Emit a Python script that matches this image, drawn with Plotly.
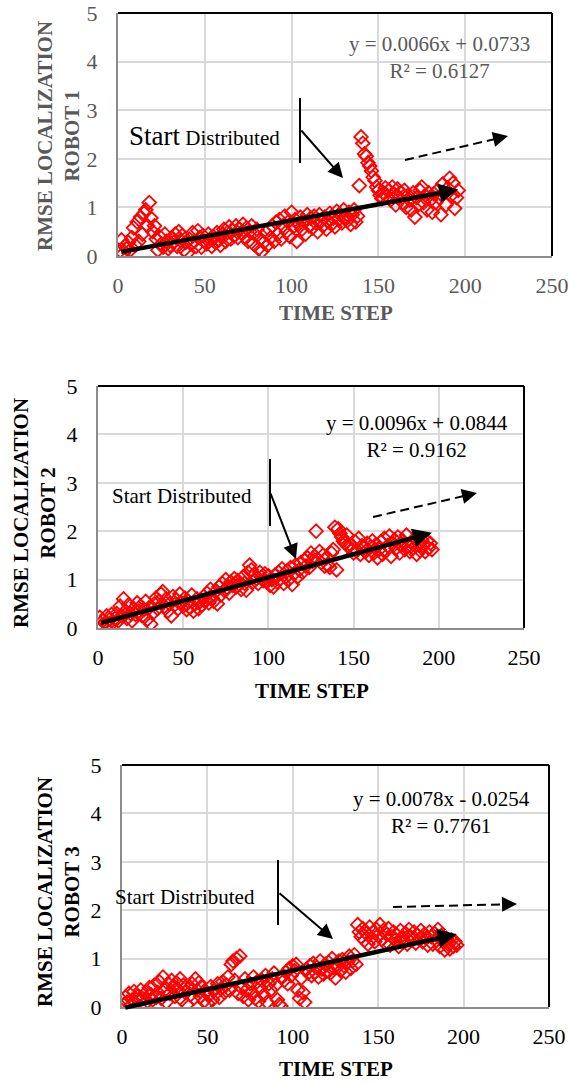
import plotly.graph_objects as go

W, H = 569, 1082
FONT = "Liberation Serif"

# ---------------- data ----------------
time_step = list(range(1, 197))

robot1_rmse = [
    0.10, 0.33, 0.05, 0.20, 0.15, 0.28, 0.12, 0.38, 0.58, 0.22,
    0.70, 0.30, 0.80, 0.45, 0.88, 0.95, 0.62, 1.10, 0.78, 0.50,
    0.62, 0.35, 0.12, 0.40, 0.25, 0.18, 0.45, 0.30, 0.15, 0.22,
    0.38, 0.28, 0.45, 0.20, 0.50, 0.32, 0.42, 0.12, 0.28, 0.06,
    0.35, 0.25, 0.48, 0.30, 0.20, 0.52, 0.38, 0.18, 0.42, 0.30,
    0.25, 0.45, 0.35, 0.20, 0.40, 0.28, 0.48, 0.32, 0.22, 0.45,
    0.55, 0.30, 0.48, 0.60, 0.35, 0.52, 0.42, 0.62, 0.38, 0.55,
    0.48, 0.65, 0.40, 0.58, 0.30, 0.50, 0.62, 0.25, 0.45, 0.55,
    0.15, 0.35, 0.10, 0.28, 0.48, 0.22, 0.55, 0.38, 0.62, 0.30,
    0.70, 0.45, 0.75, 0.35, 0.62, 0.82, 0.50, 0.70, 0.40, 0.90,
    0.60, 0.75, 0.30, 0.65, 0.80, 0.55, 0.72, 0.45, 0.85, 0.62,
    0.78, 0.58, 0.82, 0.68, 0.50, 0.85, 0.72, 0.62, 0.80, 0.55,
    0.70, 0.88, 0.65, 0.78, 0.60, 0.92, 0.75, 0.85, 0.68, 0.95,
    0.80, 0.72, 0.90, 0.65, 0.85, 0.95, 0.70, 0.82, 1.45, 2.45,
    2.32, 2.10, 2.05, 1.92, 1.85, 1.75, 1.62, 1.55, 1.42, 1.35,
    1.25, 1.18, 1.30, 1.40, 1.22, 1.35, 1.15, 1.42, 1.28, 1.05,
    1.38, 1.20, 1.30, 1.10, 1.35, 1.00, 1.25, 1.15, 0.95, 1.30,
    0.80, 1.20, 1.05, 1.35, 1.42, 1.10, 1.25, 0.95, 1.30, 1.15,
    0.90, 1.28, 1.10, 1.35, 1.20, 0.85, 1.48, 1.30, 1.05, 1.40,
    1.60, 1.25, 1.50, 0.98, 1.20, 1.35,
]

robot2_rmse = [
    0.22, 0.05, 0.15, 0.10, 0.25, 0.08, 0.18, 0.28, 0.12, 0.20,
    0.30, 0.15, 0.45, 0.25, 0.60, 0.35, 0.20, 0.48, 0.30, 0.15,
    0.40, 0.28, 0.52, 0.35, 0.45, 0.25, 0.38, 0.55, 0.18, 0.42,
    0.08, 0.30, 0.50, 0.62, 0.40, 0.55, 0.70, 0.75, 0.45, 0.60,
    0.35, 0.50, 0.25, 0.65, 0.48, 0.58, 0.40, 0.70, 0.52, 0.45,
    0.62, 0.38, 0.55, 0.42, 0.68, 0.35, 0.50, 0.60, 0.40, 0.55,
    0.48, 0.65, 0.58, 0.72, 0.52, 0.80, 0.62, 0.55, 0.75, 0.50,
    0.85, 0.68, 0.92, 0.78, 1.00, 0.82, 0.72, 0.95, 0.88, 1.02,
    0.85, 0.98, 0.90, 0.80, 1.05, 0.92, 0.78, 1.15, 1.30, 1.20,
    0.95, 1.10, 1.02, 0.92, 1.15, 1.05, 0.98, 1.12, 0.95, 1.08,
    0.88, 1.00, 0.85, 1.10, 0.95, 1.15, 1.02, 1.22, 0.92, 1.05,
    1.18, 1.00, 1.25, 0.90, 1.12, 1.30, 1.05, 1.20, 1.35, 1.15,
    1.40, 1.28, 1.45, 1.25, 1.55, 1.38, 1.48, 2.00, 1.42, 1.58,
    1.35, 1.50, 1.28, 1.45, 1.30, 1.25, 1.55, 1.62, 2.08, 1.20,
    2.05, 1.95, 1.88, 1.80, 1.75, 1.92, 1.68, 1.72, 1.62, 1.55,
    1.78, 1.60, 1.85, 1.52, 1.70, 1.65, 1.58, 1.75, 1.50, 1.68,
    1.80, 1.55, 1.72, 1.45, 1.62, 1.78, 1.52, 1.85, 1.60, 1.70,
    1.90, 1.48, 1.75, 1.82, 1.65, 1.88, 1.55, 1.72, 1.80, 1.62,
    1.92, 1.70, 1.58, 1.78, 1.65, 1.85, 1.52, 1.75, 1.60, 1.82,
    1.70, 1.58, 1.80, 1.65, 1.75, 1.62,
]

robot3_rmse = [
    0.05, 0.20, 0.10, 0.28, 0.02, 0.15, 0.32, 0.08, 0.22, 0.12,
    0.35, 0.18, 0.05, 0.30, 0.12, 0.40, 0.25, 0.15, 0.45, 0.20,
    0.30, 0.52, 0.18, 0.62, 0.35, 0.10, 0.48, 0.28, 0.55, 0.40,
    0.22, 0.50, 0.35, 0.58, 0.15, 0.45, 0.30, 0.05, 0.38, 0.25,
    0.48, 0.18, 0.58, 0.35, 0.50, 0.22, 0.40, 0.12, 0.30, 0.08,
    0.25, 0.42, 0.15, 0.35, 0.28, 0.48, 0.20, 0.38, 0.52, 0.30,
    0.45, 0.62, 0.35, 0.88, 0.95, 0.55, 1.00, 0.28, 1.05, 0.40,
    0.22, 0.58, 0.35, 0.15, 0.48, 0.30, 0.62, 0.18, 0.52, 0.12,
    0.40, 0.55, 0.25, 0.65, 0.10, 0.48, 0.35, 0.58, 0.70, 0.45,
    0.15, 0.05, 0.02, 0.62, 0.55, 0.72, 0.48, 0.80, 0.65, 0.85,
    0.75, 0.88, 0.35, 0.18, 0.60, 0.30, 0.10, 0.78, 0.70, 0.85,
    0.65, 0.90, 0.72, 0.82, 0.62, 0.95, 0.78, 0.68, 0.88, 0.75,
    0.92, 0.70, 1.00, 0.82, 0.60, 0.88, 0.95, 0.75, 0.98, 0.85,
    0.72, 0.92, 1.05, 0.80, 0.95, 1.08, 0.88, 1.70, 1.55, 1.45,
    1.62, 1.38, 1.52, 1.30, 1.65, 1.42, 1.55, 1.35, 1.60, 1.48,
    1.70, 1.40, 1.58, 1.32, 1.50, 1.62, 1.28, 1.45, 1.55, 1.38,
    1.48, 1.25, 1.58, 1.42, 1.35, 1.52, 1.30, 1.60, 1.45, 1.38,
    1.55, 1.32, 1.48, 1.40, 1.58, 1.35, 1.50, 1.42, 1.28, 1.55,
    1.45, 1.30, 1.52, 1.38, 1.60, 1.25, 1.48, 1.35, 1.18, 1.42,
    1.30, 1.20, 1.38, 1.25, 1.35, 1.28,
]

trend_slope = [0.0066, 0.0096, 0.0078]
trend_intercept = [0.0733, 0.0844, -0.0254]
trend_r2 = ["0.6127", "0.9162", "0.7761"]
trend_eq = ["y = 0.0066x + 0.0733", "y = 0.0096x + 0.0844", "y = 0.0078x - 0.0254"]
robot_labels = ["ROBOT 1", "ROBOT 2", "ROBOT 3"]
x_ticks = [0, 50, 100, 150, 200, 250]
y_ticks = [0, 1, 2, 3, 4, 5]
series = [robot1_rmse, robot2_rmse, robot3_rmse]

# ---------------- layout geometry (pixels) ----------------
def px(x):
    return x / W


def py(y):
    return 1 - y / H


panels = [
    dict(l=118, r=552, t=13, b=256, color="#595959",
         ytitle_x=58, ytitle_y=136, xtitle_x=336, xtitle_y=313,
         eq_x=439, eq_y=57,
         sd_x=127, sd_y=136, big_start=True,
         vline=(300, 98, 163), arrow=((300, 129), (343, 178)),
         dash=((405, 160), (508, 136))),
    dict(l=98, r=524, t=386, b=628, color="#000000",
         ytitle_x=34, ytitle_y=513, xtitle_x=312, xtitle_y=691,
         eq_x=417, eq_y=436,
         sd_x=110, sd_y=496, big_start=False,
         vline=(270, 459, 526), arrow=((270, 492), (296, 559)),
         dash=((373, 517), (477, 493))),
    dict(l=122, r=549, t=765, b=1007, color="#000000",
         ytitle_x=58, ytitle_y=892, xtitle_x=336, xtitle_y=1069,
         eq_x=442, eq_y=812,
         sd_x=113, sd_y=897, big_start=False,
         vline=(278, 860, 925), arrow=((278, 892), (333, 939)),
         dash=((393, 907), (517, 904))),
]

fig = go.Figure()
layout = dict(
    width=W, height=H,
    margin=dict(l=0, r=0, t=0, b=0, autoexpand=False),
    paper_bgcolor="white", plot_bgcolor="white",
    showlegend=False,
    font=dict(family=FONT, size=21, color="black"),
)
annotations = []
shapes = []

for i, p in enumerate(panels):
    n = "" if i == 0 else str(i + 1)
    xa, ya = "x" + n, "y" + n
    vals = series[i]
    fig.add_trace(go.Scatter(
        x=time_step, y=vals, mode="markers", xaxis=xa, yaxis=ya,
        marker=dict(symbol="diamond-open", size=10.5, color="#FF0000",
                    line=dict(width=1.8, color="#FF0000")),
        hoverinfo="skip",
    ))
    layout["xaxis" + n] = dict(
        domain=[px(p["l"]), px(p["r"])], anchor=ya, range=[0, 250],
        tickvals=x_ticks, showgrid=True, gridcolor="#d9d9d9", gridwidth=2,
        zeroline=False, showline=True, linecolor="#8c8c8c", linewidth=2,
        ticks="outside", ticklen=9, tickcolor="rgba(0,0,0,0)",
        tickfont=dict(family=FONT, size=22, color=p["color"]),
        fixedrange=True, automargin=False, ticklabeloverflow="allow",
    )
    layout["yaxis" + n] = dict(
        domain=[py(p["b"]), py(p["t"])], anchor=xa, range=[0, 5],
        tickvals=y_ticks, showgrid=True, gridcolor="#d9d9d9", gridwidth=2,
        zeroline=False, showline=True, linecolor="#8c8c8c", linewidth=2,
        ticks="outside", ticklen=14, tickcolor="rgba(0,0,0,0)",
        tickfont=dict(family=FONT, size=22, color=p["color"]),
        fixedrange=True, automargin=False, ticklabeloverflow="allow",
    )
    # black top and right border of plot area
    shapes.append(dict(type="line", xref=xa + " domain", yref=ya + " domain",
                       x0=0, x1=1, y0=1, y1=1, line=dict(color="black", width=2)))
    shapes.append(dict(type="line", xref=xa + " domain", yref=ya + " domain",
                       x0=1, x1=1, y0=0, y1=1, line=dict(color="black", width=2)))

    # trendline arrow (from fitted equation)
    x_start, x_end = time_step[0], time_step[-1]
    s, c = trend_slope[i], trend_intercept[i]
    annotations.append(dict(
        xref=xa, yref=ya, axref=xa, ayref=ya,
        x=x_end, y=s * x_end + c, ax=x_start, ay=s * x_start + c,
        text="", showarrow=True, arrowhead=2, arrowsize=0.85, arrowwidth=4.5,
        arrowcolor="black", standoff=0,
    ))

    # axis titles
    annotations.append(dict(
        xref="paper", yref="paper", x=px(p["ytitle_x"]), y=py(p["ytitle_y"]),
        text="<b>RMSE LOCALIZATION<br>" + robot_labels[i] + "</b>",
        textangle=-90, showarrow=False, xanchor="center", yanchor="middle",
        font=dict(family=FONT, size=21, color=p["color"]), align="center",
    ))
    annotations.append(dict(
        xref="paper", yref="paper", x=px(p["xtitle_x"]), y=py(p["xtitle_y"]),
        text="<b>TIME STEP</b>", showarrow=False,
        xanchor="center", yanchor="middle",
        font=dict(family=FONT, size=21, color=p["color"]),
    ))

    # equation
    annotations.append(dict(
        xref="paper", yref="paper", x=px(p["eq_x"]), y=py(p["eq_y"]),
        text=trend_eq[i] + "<br>R² = " + trend_r2[i], showarrow=False,
        xanchor="center", yanchor="middle", align="center",
        font=dict(family=FONT, size=21, color=p["color"]),
    ))

    # "Start Distributed"
    sd_text = ("<span style='font-size:27px'>Start</span> Distributed"
               if p["big_start"] else "Start Distributed")
    annotations.append(dict(
        xref="paper", yref="paper", x=px(p["sd_x"]), y=py(p["sd_y"]),
        text=sd_text, showarrow=False, xanchor="left", yanchor="middle",
        font=dict(family=FONT, size=21, color="black"),
    ))

    # callout vertical line + arrow
    vx, vy0, vy1 = p["vline"]
    shapes.append(dict(type="line", xref="paper", yref="paper",
                       x0=px(vx), x1=px(vx), y0=py(vy0), y1=py(vy1),
                       line=dict(color="black", width=2)))
    (sx, sy), (tx, ty) = p["arrow"]
    annotations.append(dict(
        xref="paper", yref="paper", x=px(tx), y=py(ty),
        ax=sx - tx, ay=sy - ty, text="", showarrow=True,
        arrowhead=2, arrowsize=1.5, arrowwidth=2, arrowcolor="black", standoff=0,
    ))

    # dashed arrow
    (dx0, dy0), (dx1, dy1) = p["dash"]
    L = ((dx1 - dx0) ** 2 + (dy1 - dy0) ** 2) ** 0.5
    ux, uy = (dx1 - dx0) / L, (dy1 - dy0) / L
    shapes.append(dict(type="line", xref="paper", yref="paper",
                       x0=px(dx0), y0=py(dy0),
                       x1=px(dx1 - ux * 10), y1=py(dy1 - uy * 10),
                       line=dict(color="black", width=2, dash="9px,5px")))
    annotations.append(dict(
        xref="paper", yref="paper", x=px(dx1), y=py(dy1),
        ax=-ux * 14, ay=-uy * 14, text="", showarrow=True,
        arrowhead=2, arrowsize=1.5, arrowwidth=2, arrowcolor="black", standoff=0,
    ))

layout["annotations"] = annotations
layout["shapes"] = shapes
fig.update_layout(**layout)
fig.write_html("out.html", include_plotlyjs=True, config={"displayModeBar": False})
